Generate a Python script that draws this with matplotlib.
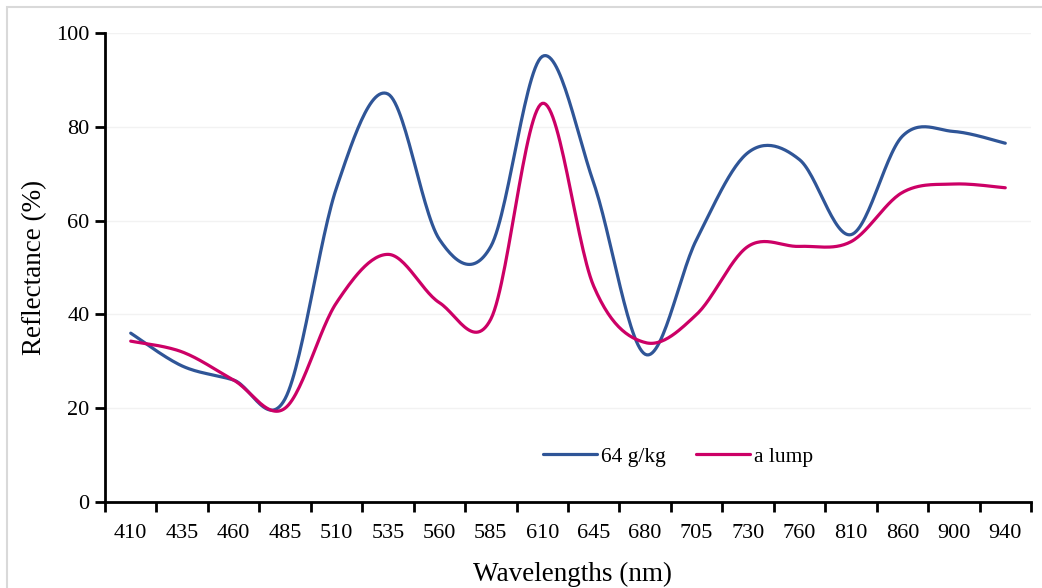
import numpy as np
import matplotlib
matplotlib.use("Agg")
import matplotlib.pyplot as plt
from matplotlib.patches import Rectangle

wavelengths = ["410", "435", "460", "485", "510", "535", "560", "585", "610",
               "645", "680", "705", "730", "760", "810", "860", "900", "940"]
g64 = [36.0, 29.0, 26.0, 22.0, 67.0, 87.0, 56.0, 54.5, 95.0,
       68.0, 31.5, 56.0, 74.5, 73.0, 57.0, 78.0, 79.0, 76.5]
lump = [34.3, 32.0, 26.0, 20.0, 42.5, 52.8, 42.5, 39.0, 85.0,
        46.0, 34.0, 40.0, 54.5, 54.5, 55.5, 66.0, 67.8, 67.0]


# Excel-like smoothed line (Catmull-Rom through the points)
def smooth(x, y, n=30):
    x = np.asarray(x, float)
    y = np.asarray(y, float)
    px = np.concatenate([[x[0]], x, [x[-1]]])
    py = np.concatenate([[y[0]], y, [y[-1]]])
    t = np.linspace(0, 1, n)
    xs, ys = [], []
    for i in range(1, len(px) - 2):
        p0, p1, p2, p3 = (np.array([px[j], py[j]]) for j in range(i - 1, i + 3))
        c1 = p1 + (p2 - p0) / 6
        c2 = p2 - (p3 - p1) / 6
        seg = ((1 - t) ** 3)[:, None] * p1 + (3 * (1 - t) ** 2 * t)[:, None] * c1 \
            + (3 * (1 - t) * t ** 2)[:, None] * c2 + (t ** 3)[:, None] * p2
        xs.extend(seg[:, 0])
        ys.extend(seg[:, 1])
    return np.array(xs), np.array(ys)


plt.rcParams['font.family'] = ['Liberation Serif', 'DejaVu Serif']

fig = plt.figure(figsize=(10.42, 5.88), dpi=100)
ax = fig.add_axes([105 / 1042, 86 / 588, 926 / 1042, 469 / 588])

fig.patches.append(Rectangle((7 / 1042, -0.1), 1.2, (588 - 7) / 588 + 0.1,
                             transform=fig.transFigure, fill=False,
                             edgecolor='#D9D9D9', linewidth=1.5))

pos = np.arange(len(wavelengths)) + 0.5
x1, y1 = smooth(pos, g64)
x2, y2 = smooth(pos, lump)
ax.plot(x1, y1, color='#2F5597', lw=2.3, label='64 g/kg', solid_capstyle='round')
ax.plot(x2, y2, color='#CC0066', lw=2.3, label='a lump', solid_capstyle='round')

ax.set_xlim(0, len(wavelengths))
ax.set_ylim(0, 100)
ax.set_yticks(range(0, 101, 20))
ax.set_xticks(range(len(wavelengths) + 1))
ax.set_xticklabels([])
ax.set_xticks(pos, minor=True)
ax.set_xticklabels(wavelengths, minor=True)
ax.tick_params(axis='x', which='minor', length=0, labelsize=16, pad=16)
ax.tick_params(axis='x', which='major', length=7, width=2, direction='out')
ax.tick_params(axis='y', length=7, width=2, direction='out', labelsize=16, pad=4)

ax.grid(axis='y', color='#F2F2F2', lw=1)
ax.set_axisbelow(True)
for s in ['top', 'right']:
    ax.spines[s].set_visible(False)
for s in ['left', 'bottom']:
    ax.spines[s].set_linewidth(2)

ax.set_xlabel('Wavelengths (nm)', fontsize=19.5)
ax.set_ylabel('Reflectance (%)', fontsize=19.5)
ax.xaxis.set_label_coords(0.505, -0.128)
ax.yaxis.set_label_coords(-0.062, 0.5)

ax.legend(loc='center', bbox_to_anchor=(0.619, 0.096), ncol=2, frameon=False,
          fontsize=15.5, handlelength=2.5, columnspacing=1.4, handletextpad=0.2)

fig.savefig('out.png', dpi=100)
